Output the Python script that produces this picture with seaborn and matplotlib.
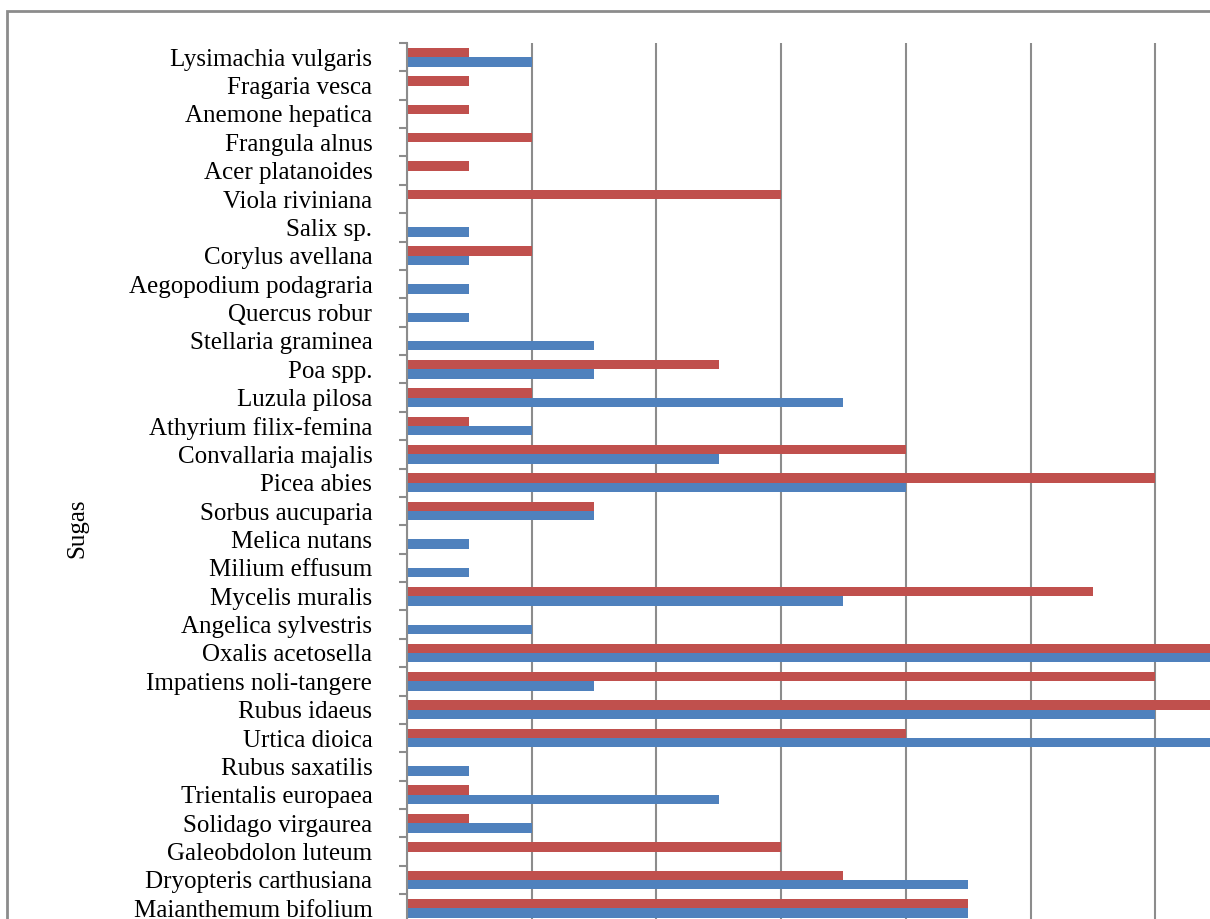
import pandas as pd
import matplotlib.pyplot as plt
import seaborn as sns
from matplotlib.patches import Rectangle

# Sugas (no augšas uz leju) un divu sēriju vērtības
species = [
    'Lysimachia vulgaris', 'Fragaria vesca', 'Anemone hepatica', 'Frangula alnus',
    'Acer platanoides', 'Viola riviniana', 'Salix sp.', 'Corylus avellana',
    'Aegopodium podagraria', 'Quercus robur', 'Stellaria graminea', 'Poa spp.',
    'Luzula pilosa', 'Athyrium filix-femina', 'Convallaria majalis', 'Picea abies',
    'Sorbus aucuparia', 'Melica nutans', 'Milium effusum', 'Mycelis muralis',
    'Angelica sylvestris', 'Oxalis acetosella', 'Impatiens noli-tangere',
    'Rubus idaeus', 'Urtica dioica', 'Rubus saxatilis', 'Trientalis europaea',
    'Solidago virgaurea', 'Galeobdolon luteum', 'Dryopteris carthusiana',
    'Maianthemum bifolium',
]
red_vals = [1, 1, 1, 2, 1, 6, 0, 2, 0, 0, 0, 5, 2, 1, 8, 12, 3, 0, 0, 11,
            0, 14, 12, 14, 8, 0, 1, 1, 6, 7, 9]
blue_vals = [2, 0, 0, 0, 0, 0, 1, 1, 1, 1, 3, 3, 7, 2, 5, 8, 3, 1, 1, 7,
             2, 14, 3, 12, 14, 1, 5, 2, 0, 9, 9]
series = ['Sērija 1', 'Sērija 2']

df = pd.DataFrame({
    'Suga': species * 2,
    'Vērtība': red_vals + blue_vals,
    'Sērija': [series[0]] * len(species) + [series[1]] * len(species),
})

W, H = 1210, 919
fig = plt.figure(figsize=(W / 100, H / 100), dpi=100)
plt.rcParams['font.family'] = ['Liberation Serif', 'DejaVu Serif']

# plot area (extends past the right and bottom edge like the cropped original)
top_px, band = 43, 28.37
left_px, unit_px = 407, 124.7 / 2
xmax = 16
ax = fig.add_axes([left_px / W, 1 - (top_px + band * len(species)) / H,
                   unit_px * xmax / W, band * len(species) / H])

sns.barplot(data=df, y='Suga', x='Vērtība', hue='Sērija', order=species,
            hue_order=series, palette=['#C0504D', '#4F81BD'], width=0.66,
            orient='h', legend=False, ax=ax, saturation=1)

ax.set_xlim(0, xmax)
ax.set_ylim(len(species) - 0.5, -0.5)
ax.set_xticks(range(0, xmax + 1, 2))
ax.set_xticklabels([])
ax.tick_params(axis='x', length=0)
ax.grid(axis='x', color='#8c8c8c', linewidth=1.5)
ax.set_axisbelow(True)
for s in ['top', 'right', 'bottom']:
    ax.spines[s].set_visible(False)
ax.spines['left'].set_color('#8c8c8c')
ax.spines['left'].set_linewidth(1.5)

ax.set_yticks([i - 0.5 for i in range(len(species) + 1)], minor=True)
ax.tick_params(axis='y', which='minor', length=6, width=1.5, color='#8c8c8c')
ax.tick_params(axis='y', which='major', length=0, pad=25, labelsize=18)
ax.set_xlabel('')
ax.set_ylabel('Sugas', fontsize=18)
ax.yaxis.set_label_coords(88 / W, 1 - 528 / H, transform=fig.transFigure)

# chart border
fig.patches.append(Rectangle((7 / W, -0.1), 1.2, 1 - 11 / H + 0.1,
                             transform=fig.transFigure, fill=False,
                             edgecolor='#8c8c8c', linewidth=2))

fig.savefig('out.png', dpi=100)
